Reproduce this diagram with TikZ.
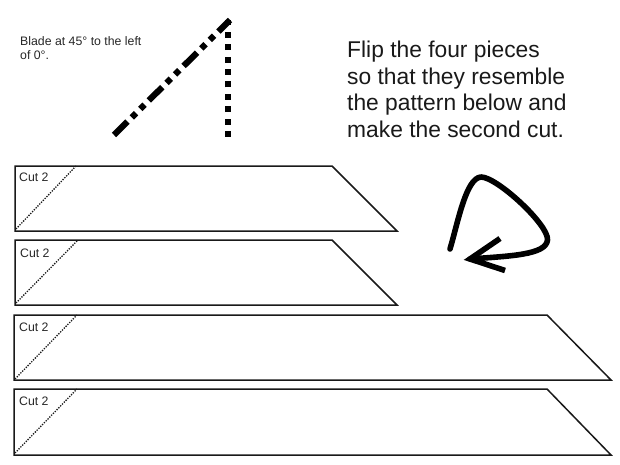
\documentclass[tikz,border=0pt]{standalone}
\usepackage{fontspec}
\setmainfont{Liberation Sans}
\tikzset{
  piece/.style={draw=black!90,line width=1.5pt,line join=miter},
  cutline/.style={draw=black!90,line width=1.3pt,dash pattern=on 1.3pt off 1.3pt},
  smalltext/.style={anchor=base west,inner sep=0pt,font=\fontsize{12.3}{14}\selectfont,text=black!85},
  bigtext/.style={anchor=base west,inner sep=0pt,font=\fontsize{22.8}{27}\selectfont,text=black!90},
  bladeline/.style={draw=black,line width=6.2pt},
  arrowline/.style={draw=black,line width=5.6pt,line cap=round,line join=round}
}
\begin{document}
\begin{tikzpicture}[x=1pt,y=-1pt]
\useasboundingbox (0,0) rectangle (620,465);
% blade
\coordinate (bl) at (114,135);
\coordinate (bt) at (230,20);
\coordinate (vb) at (228,137);
\coordinate (vt) at (228,20);
\draw[bladeline,dash pattern=on 6pt off 6.4pt] (vb) -- (vt);
\draw[bladeline,dash pattern=on 19pt off 6pt on 6pt off 6pt on 6pt off 6pt] (bl) -- (bt);
\node[smalltext] (bladeA) at (20,45.5) {Blade at 45° to the left};
\node[smalltext] (bladeB) at (20,60) {of 0°.};
% instructions
\node[bigtext] (t1) at (347,58) {Flip the four pieces};
\node[bigtext] (t2) at (347,85) {so that they resemble};
\node[bigtext] (t3) at (347,111) {the pattern below and};
\node[bigtext] (t4) at (347,138) {make the second cut.};
% pieces
\draw[piece] (15,166) -- (332,166) -- (397,231) -- (15,231) -- cycle;
\draw[piece] (15,240) -- (332,240) -- (397,305) -- (15,305) -- cycle;
\draw[piece] (14,315) -- (547,315) -- (611,380) -- (14,380) -- cycle;
\draw[piece] (14,389) -- (547,389) -- (611,455) -- (14,455) -- cycle;
% cut lines
\draw[cutline] (16,229) -- (76,166);
\draw[cutline] (16,303) -- (78,240);
\draw[cutline] (15,379) -- (77,315);
\draw[cutline] (15,453) -- (77,389);
\node[smalltext] (c1) at (19,181.5) {Cut 2};
\node[smalltext] (c2) at (20,257) {Cut 2};
\node[smalltext] (c3) at (19,331) {Cut 2};
\node[smalltext] (c4) at (19,405.5) {Cut 2};
% arrow
\coordinate (as) at (450,249);
\coordinate (atop) at (481,177);
\coordinate (ar) at (547.5,240);
\coordinate (atip) at (470,259);
\draw[arrowline] (as) .. controls (458,222) and (466,178) .. (atop)
  .. controls (497,177) and (549,225) .. (ar)
  .. controls (546,255) and (510,256) .. (atip);
\draw[arrowline,line cap=butt,line join=miter] (500,238.5) -- (atip) -- (505,270.5);
\end{tikzpicture}
\end{document}
